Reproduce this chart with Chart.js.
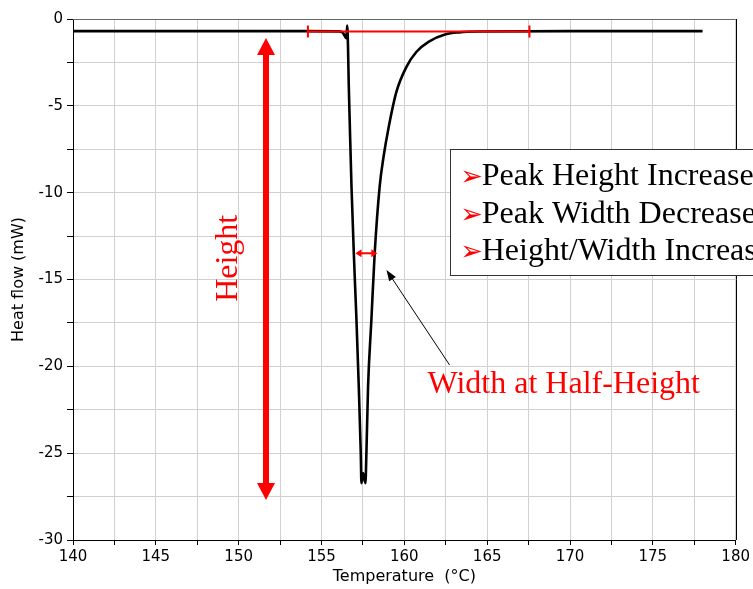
<!DOCTYPE html>
<html>
<head>
<meta charset="utf-8">
<script src="https://cdn.jsdelivr.net/npm/chart.js@4/dist/chart.umd.min.js"></script>
<style>
  html, body { margin: 0; padding: 0; background: #fff; }
  canvas { display: block; }
</style>
</head>
<body>
<canvas id="dscChart" width="753" height="589"></canvas>
<script>
// DSC melting peak
const temperature = [140, 150, 154, 156, 156.27, 156.5, 156.55, 156.6, 156.64, 156.7, 156.81, 156.95, 157.11, 157.25,
  157.37, 157.41, 157.51, 157.65, 157.71, 157.81, 158.01, 158.21, 158.51, 158.75, 159.04, 159.52, 160.12, 160.72,
  161.48, 162.5, 163.3, 164.5, 170, 178];
const heatFlow = [-0.70, -0.70, -0.70, -0.71, -0.77, -1.10, -0.38, -1.6, -3.6, -5.81, -9.65, -13.49, -17.33, -21.17,
  -25.0, -26.73, -26.15, -26.73, -25.0, -21.17, -17.33, -13.49, -9.65, -7.9, -6.3, -4.2, -2.77, -1.9,
  -1.3, -0.88, -0.77, -0.72, -0.70, -0.70];

const xTickLabels = [140, 145, 150, 155, 160, 165, 170, 175, 180];
const yTickLabels = [0, -5, -10, -15, -20, -25, -30];

// annotations (data units)
const baselineMark = { y: -0.72, from: 154.18, to: 167.55 };
const heightArrow = { x: 151.65, top: -1.1, bottom: -27.7 };
const widthArrow = { y: -13.49, from: 157.05, to: 158.37 };
const pointer = { from: [162.73, -19.92], to: [158.92, -14.45] };
const notes = ['Peak Height Increases', 'Peak Width Decreases', 'Height/Width Increases'];
const noteBaselines = [-9.56, -11.73, -13.87];

const points = temperature.map((t, i) => ({ x: t, y: heatFlow[i] }));

function head(ctx, x, y, angle, len, half) {
  ctx.save();
  ctx.translate(x, y);
  ctx.rotate(angle);
  ctx.beginPath();
  ctx.moveTo(0, 0);
  ctx.lineTo(-len, -half);
  ctx.lineTo(-len, half);
  ctx.closePath();
  ctx.fill();
  ctx.restore();
}

const serif = "'Liberation Serif', 'Times New Roman', serif";

const overlay = {
  id: 'overlay',
  afterDatasetsDraw(chart) {
    const ctx = chart.ctx;
    const xs = chart.scales.x, ys = chart.scales.y;
    const px = v => xs.getPixelForValue(v);
    const py = v => ys.getPixelForValue(v);
    const area = chart.chartArea;

    ctx.save();
    // frame: top grey, right black
    ctx.lineWidth = 1;
    ctx.strokeStyle = '#666';
    ctx.beginPath();
    ctx.moveTo(area.left, area.top + 0.5);
    ctx.lineTo(area.right, area.top + 0.5);
    ctx.stroke();
    ctx.strokeStyle = '#000';
    ctx.beginPath();
    ctx.moveTo(Math.round(area.right) + 0.5, area.top);
    ctx.lineTo(Math.round(area.right) + 0.5, area.bottom);
    ctx.stroke();

    ctx.strokeStyle = 'red';
    ctx.fillStyle = 'red';

    // red baseline with end caps
    ctx.lineWidth = 2;
    ctx.beginPath();
    ctx.moveTo(px(baselineMark.from), py(baselineMark.y));
    ctx.lineTo(px(baselineMark.to), py(baselineMark.y));
    ctx.moveTo(px(baselineMark.from), py(baselineMark.y) - 6);
    ctx.lineTo(px(baselineMark.from), py(baselineMark.y) + 6);
    ctx.moveTo(px(baselineMark.to), py(baselineMark.y) - 6);
    ctx.lineTo(px(baselineMark.to), py(baselineMark.y) + 6);
    ctx.stroke();

    // height arrow
    const hx = px(heightArrow.x), ht = py(heightArrow.top), hb = py(heightArrow.bottom);
    ctx.lineWidth = 6;
    ctx.beginPath();
    ctx.moveTo(hx, ht + 14);
    ctx.lineTo(hx, hb - 14);
    ctx.stroke();
    head(ctx, hx, ht, -Math.PI / 2, 17, 9);
    head(ctx, hx, hb, Math.PI / 2, 17, 9);

    // width at half height arrow
    const wy = py(widthArrow.y), wl = px(widthArrow.from), wr = px(widthArrow.to);
    ctx.lineWidth = 2;
    ctx.beginPath();
    ctx.moveTo(wl + 4, wy);
    ctx.lineTo(wr - 4, wy);
    ctx.stroke();
    head(ctx, wl, wy, Math.PI, 6, 4);
    head(ctx, wr, wy, 0, 6, 4);

    // "Height" label
    ctx.save();
    ctx.translate(px(149.92), py(-13.78));
    ctx.rotate(-Math.PI / 2);
    ctx.font = '32px ' + serif;
    ctx.textAlign = 'center';
    ctx.textBaseline = 'alphabetic';
    ctx.fillText('Height', 0, 0);
    ctx.restore();

    // width label
    ctx.font = '32px ' + serif;
    ctx.textAlign = 'left';
    ctx.textBaseline = 'alphabetic';
    ctx.fillText('Width at Half-Height', px(161.4), py(-21.53));

    // pointer arrow
    ctx.strokeStyle = '#000';
    ctx.fillStyle = '#000';
    ctx.lineWidth = 1;
    const [fx, fy] = [px(pointer.from[0]), py(pointer.from[1])];
    const [tx, ty] = [px(pointer.to[0]), py(pointer.to[1])];
    const ang = Math.atan2(ty - fy, tx - fx);
    ctx.beginPath();
    ctx.moveTo(fx, fy);
    ctx.lineTo(tx - 8 * Math.cos(ang), ty - 8 * Math.sin(ang));
    ctx.stroke();
    head(ctx, tx, ty, ang, 11, 4);

    // notes box
    const bx = Math.round(px(162.73)) + 0.5;
    const bt = Math.round(py(-7.48)) + 0.5;
    const bb = Math.round(py(-14.74)) + 0.5;
    ctx.fillStyle = '#fff';
    ctx.fillRect(bx, bt, chart.width - bx + 10, bb - bt);
    ctx.strokeStyle = '#333';
    ctx.strokeRect(bx, bt, chart.width - bx + 10, bb - bt);
    notes.forEach((txt, i) => {
      const by = py(noteBaselines[i]);
      ctx.fillStyle = 'red';
      ctx.font = "27px 'DejaVu Sans'";
      ctx.fillText('\u27A2', px(163.38), by);
      ctx.fillStyle = '#000';
      ctx.font = '32px ' + serif;
      ctx.fillText(txt, px(164.67), by);
    });
    ctx.restore();
  }
};

Chart.defaults.font.family = "'DejaVu Sans', sans-serif";
Chart.defaults.color = '#000';

new Chart(document.getElementById('dscChart'), {
  type: 'line',
  data: {
    datasets: [{
      data: points,
      borderColor: '#000',
      borderWidth: 2.6,
      pointRadius: 0,
      cubicInterpolationMode: 'monotone',
      fill: false
    }]
  },
  options: {
    responsive: false,
    animation: false,
    layout: { padding: { top: 19, right: 16, left: 0, bottom: 0 } },
    plugins: { legend: { display: false }, tooltip: { enabled: false } },
    scales: {
      x: {
        type: 'linear',
        min: 140,
        max: 180,
        afterFit: s => { s.height = 49; },
        ticks: {
          stepSize: 2.5,
          autoSkip: false,
          maxRotation: 0,
          padding: 3,
          font: { size: 15 },
          callback: v => xTickLabels.includes(v) ? String(v) : ''
        },
        grid: { color: '#d0d0d0', tickColor: '#000', tickLength: 5 },
        border: { color: '#000', width: 1 },
        title: { display: true, text: 'Temperature  (°C)', font: { size: 16 }, padding: { top: 0, bottom: 3 } }
      },
      y: {
        min: -30,
        max: 0,
        afterFit: s => { s.width = 73; },
        ticks: {
          stepSize: 2.5,
          autoSkip: false,
          padding: 4,
          font: { size: 15 },
          callback: v => yTickLabels.includes(v) ? String(v) : ''
        },
        grid: { color: '#d0d0d0', tickColor: '#000', tickLength: 6 },
        border: { color: '#000', width: 1 },
        title: { display: true, text: 'Heat flow (mW)', font: { size: 16 }, padding: { top: 9, bottom: 0 } }
      }
    }
  },
  plugins: [overlay]
});
</script>
</body>
</html>
